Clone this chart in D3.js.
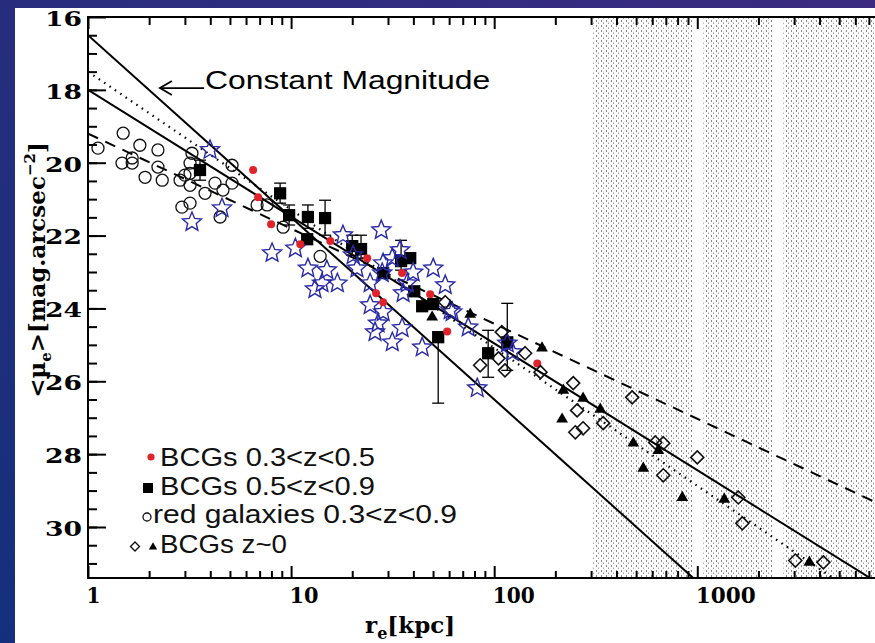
<!DOCTYPE html>
<html>
<head>
<meta charset="utf-8">
<script src="https://cdn.jsdelivr.net/npm/d3@7"></script>
<style>
  body { margin: 0; background: #fff; }
  svg { display: block; }
</style>
</head>
<body>
<svg id="chart" width="875" height="643"></svg>
<script>
// ---- data: [r_e (kpc), <mu_e> (mag/arcsec^2)] ----
var redGalaxies = [
  [1.12,19.60],[1.49,19.19],[1.80,19.52],[2.21,19.65],[1.47,20.01],[1.65,20.01],
  [1.65,19.87],[1.91,20.40],[2.21,20.12],[2.32,20.48],[2.84,20.48],[3.00,20.34],
  [3.18,20.29],[3.25,19.74],[3.18,20.01],[3.18,20.62],[3.77,20.84],[4.22,20.56],
  [4.62,20.75],[5.12,20.56],[5.12,20.07],[2.90,21.22],[3.18,21.11],[4.47,21.49],
  [6.80,21.16],[7.62,21.16],[9.14,21.77],[13.9,22.57]
];
var bcgMidZ = [   // red dots, 0.3<z<0.5
  [6.50,20.20],[6.88,20.95],[7.97,21.69],[11.1,22.24],[15.6,22.15],[23.7,22.62],
  [35.2,23.03],[48.4,23.61],[26.2,23.58],[28.4,23.83],[58.7,24.63],[163,25.51]
];
var bcgHighZ = [  // squares, 0.5<z<0.9: r, mu, errLow, errHigh
  [3.56,20.20,19.93,20.48],[8.83,20.84,20.56,21.11],[9.78,21.44,21.16,21.71],
  [12.1,21.49,21.16,21.80],[14.7,21.52,21.03,21.99],[12.0,22.10,null,null],
  [20.0,22.29,21.99,22.54],[22.1,22.37,21.99,22.62],[28.4,23.03,null,null],
  [34.8,22.70,22.13,22.95],[38.6,22.62,null,null],[40.4,23.53,null,null],
  [44.2,23.94,null,null],[50.1,23.88,null,null],[53.0,24.79,24.65,26.60],
  [93.4,25.23,24.60,25.89],[116,24.93,23.86,25.70]
];
var starSample = [
  [3.99,19.65],[3.25,21.63],[4.57,21.25],[8.06,22.48],[10.5,22.35],[18.0,21.99],
  [27.8,21.85],[12.1,22.90],[14.2,23.31],[16.9,23.31],[13.1,23.47],[15.0,22.95],
  [21.1,22.90],[24.5,23.31],[28.4,22.76],[31.5,22.62],[28.1,23.03],[37.3,23.31],
  [50.1,22.90],[57.4,23.36],[35.6,23.58],[24.5,23.91],[28.4,24.10],[26.8,24.41],
  [25.9,24.65],[35.2,24.54],[31.5,24.93],[44.2,25.07],[62.1,24.10],[74.5,24.52],
  [82.5,26.19],[116,24.96],[123,25.20],[34.4,22.40],[20.2,22.54],[60.7,24.05],
  [39.9,23.01]
];
var bcgLocalDiamond = [
  [57.4,23.83],[109,24.65],[85.3,25.56],[105,25.37],[113,25.70],[142,25.23],
  [169,25.75],[245,26.05],[256,26.80],[251,27.40],[274,27.29],[344,27.15],
  [478,26.44],[621,27.68],[680,27.70],[1000,28.09],[680,28.58],[1592,29.19],
  [1667,29.90],[3040,30.92],[4178,30.97]
];
var bcgLocalTriangle = [
  [49.5,24.24],[76.2,24.16],[172,25.09],[219,26.25],[274,26.47],[216,27.04],
  [333,26.77],[484,27.70],[643,27.90],[542,28.39],[844,29.19],[1358,29.24],
  [3564,30.97]
];
// fitted relations mu = a + b*log10(r)
var fitLines = [
  {a:16.5, b:5.00, dash:null},       // constant magnitude
  {a:18.0, b:3.48, dash:null},
  {a:17.5, b:3.79, dash:"1.5,5"},
  {a:19.2, b:2.61, dash:"11,8"}
];
// dotted (shaded) r ranges
var shadeBands = [[307,955],[1071,2340],[2653,7500]];

var yMajor = [16,18,20,22,24,26,28,30];
var yMinor = d3.range(16.5, 31.41, 0.5);
var xMajor = [1,10,100,1000];
var xTickText = ["1","10","100","1000"];
var xTickWidth = [14,29,42,60];

var legendRows = ["BCGs 0.3<z<0.5","BCGs 0.5<z<0.9","red galaxies 0.3<z<0.9","BCGs z~0"];
var legendWidth = [215,215,304,127];

// ---- layout ----
var svg = d3.select("#chart");
var L = 88, R = 875, T = 17, B = 578;
var x = d3.scaleLog().domain([1, 7500]).range([L, R]);
var y = d3.scaleLinear().domain([16, 31.4]).range([T, B]);

var defs = svg.append("defs");
var grad = defs.append("linearGradient").attr("id","bg").attr("x1","100%").attr("y1","0%").attr("x2","0%").attr("y2","100%");
grad.append("stop").attr("offset","0%").attr("stop-color","#3b2a80");
grad.append("stop").attr("offset","100%").attr("stop-color","#14307c");
defs.append("clipPath").attr("id","plot").append("rect")
  .attr("x",L).attr("y",T).attr("width",R-L).attr("height",B-T);
var pat = defs.append("pattern").attr("id","dots").attr("patternUnits","userSpaceOnUse")
  .attr("width",5).attr("height",5);
pat.append("rect").attr("x",1).attr("y",0).attr("width",1).attr("height",2).attr("fill","#8a8a8a");
pat.append("rect").attr("x",3).attr("y",2.5).attr("width",1).attr("height",1.5).attr("fill","#a0a0a0");

svg.append("rect").attr("width",875).attr("height",643).attr("fill","url(#bg)");
svg.append("rect").attr("x",15).attr("y",8).attr("width",860).attr("height",635).attr("fill","#fff");

var plot = svg.append("g").attr("clip-path","url(#plot)");

plot.selectAll("rect.band").data(shadeBands).enter().append("rect")
  .attr("x", function(d){ return x(d[0]); })
  .attr("width", function(d){ return x(d[1]) - x(d[0]); })
  .attr("y", T).attr("height", B - T)
  .attr("fill","url(#dots)");

// fit lines
plot.selectAll("line.fit").data(fitLines).enter().append("line")
  .attr("x1", x(1)).attr("x2", x(7500))
  .attr("y1", function(d){ return y(d.a); })
  .attr("y2", function(d){ return y(d.a + d.b*Math.log10(7500)); })
  .attr("stroke","#000")
  .attr("stroke-width", function(d){ return d.dash === "1.5,5" ? 2.2 : 2; })
  .attr("stroke-dasharray", function(d){ return d.dash; });

// open circles
plot.selectAll("circle.rg").data(redGalaxies).enter().append("circle")
  .attr("cx", function(d){ return x(d[0]); }).attr("cy", function(d){ return y(d[1]); })
  .attr("r", 6).attr("fill","none").attr("stroke","#111").attr("stroke-width",1.3);

// squares with error bars
var sq = plot.selectAll("g.sq").data(bcgHighZ).enter().append("g")
  .attr("transform", function(d){ return "translate(" + x(d[0]) + "," + y(d[1]) + ")"; });
sq.filter(function(d){ return d[2] !== null; }).each(function(d){
  var g = d3.select(this), yt = y(d[2]) - y(d[1]), yb = y(d[3]) - y(d[1]);
  g.append("line").attr("x1",0).attr("x2",0).attr("y1",yt).attr("y2",yb).attr("stroke","#000").attr("stroke-width",1.3);
  g.append("line").attr("x1",-6).attr("x2",6).attr("y1",yt).attr("y2",yt).attr("stroke","#000").attr("stroke-width",1.3);
  g.append("line").attr("x1",-6).attr("x2",6).attr("y1",yb).attr("y2",yb).attr("stroke","#000").attr("stroke-width",1.3);
});
sq.append("path").attr("d", d3.symbol(d3.symbolSquare, 150)()).attr("fill","#000");

// stars
function starPath(Ro) {
  var Ri = Ro * 0.45, p = "";
  for (var i = 0; i < 10; i++) {
    var a = -Math.PI/2 + i*Math.PI/5, rr = i % 2 ? Ri : Ro;
    p += (i ? "L" : "M") + (rr*Math.cos(a)).toFixed(2) + "," + (rr*Math.sin(a)).toFixed(2);
  }
  return p + "Z";
}
plot.selectAll("path.star").data(starSample).enter().append("path")
  .attr("d", starPath(10))
  .attr("transform", function(d){ return "translate(" + x(d[0]) + "," + y(d[1]) + ")"; })
  .attr("fill","none").attr("stroke","#2a2aa6").attr("stroke-width",1.4);

// red dots
plot.selectAll("circle.red").data(bcgMidZ).enter().append("circle")
  .attr("cx", function(d){ return x(d[0]); }).attr("cy", function(d){ return y(d[1]); })
  .attr("r", 4).attr("fill","#e0232b");

// diamonds + triangles
var diamond = "M0,-6.5L6.5,0L0,6.5L-6.5,0Z";
plot.selectAll("path.dia").data(bcgLocalDiamond).enter().append("path")
  .attr("d", diamond)
  .attr("transform", function(d){ return "translate(" + x(d[0]) + "," + y(d[1]) + ")"; })
  .attr("fill","none").attr("stroke","#111").attr("stroke-width",1.6);
plot.selectAll("path.tri").data(bcgLocalTriangle).enter().append("path")
  .attr("d", d3.symbol(d3.symbolTriangle, 60)())
  .attr("transform", function(d){ return "translate(" + x(d[0]) + "," + y(d[1]) + ")"; })
  .attr("fill","#000");

// ---- axes ----
var serif = "'DejaVu Serif', serif";
var xMinor = [];
[1,10,100,1000].forEach(function(dec){ for (var k = 2; k <= 9; k++) if (dec*k < 7500) xMinor.push(dec*k); });

function styleAxis(g) {
  g.select(".domain").remove();
  g.selectAll(".tick line").attr("stroke","#000").attr("stroke-width",2);
}
// bottom
svg.append("g").attr("transform","translate(0," + B + ")")
  .call(d3.axisBottom(x).tickValues(xMinor).tickSizeInner(-7).tickSizeOuter(0).tickFormat(""))
  .call(styleAxis);
var xb = svg.append("g").attr("transform","translate(0," + B + ")")
  .call(d3.axisBottom(x).tickValues(xMajor).tickSizeInner(-12).tickSizeOuter(0).tickPadding(9)
    .tickFormat(function(d, i){ return xTickText[i]; }))
  .call(styleAxis);
xb.selectAll("text").attr("text-anchor","start").attr("dx",-2)
  .attr("font-family",serif).attr("font-weight","bold").attr("font-size",22).attr("fill","#000")
  .attr("textLength", function(d, i){ return xTickWidth[i]; }).attr("lengthAdjust","spacingAndGlyphs");
// top
svg.append("g").attr("transform","translate(0," + T + ")")
  .call(d3.axisBottom(x).tickValues(xMinor).tickSizeInner(8).tickSizeOuter(0).tickFormat(""))
  .call(styleAxis);
svg.append("g").attr("transform","translate(0," + T + ")")
  .call(d3.axisBottom(x).tickValues(xMajor).tickSizeInner(12).tickSizeOuter(0).tickFormat(""))
  .call(styleAxis);
// left
svg.append("g").attr("transform","translate(" + L + ",0)")
  .call(d3.axisLeft(y).tickValues(yMinor).tickSizeInner(-9).tickSizeOuter(0).tickFormat(""))
  .call(styleAxis);
var yl = svg.append("g").attr("transform","translate(" + L + ",0)")
  .call(d3.axisLeft(y).tickValues(yMajor).tickSizeInner(-18).tickSizeOuter(0).tickPadding(6))
  .call(styleAxis);
yl.selectAll("text").attr("dy","0.4em")
  .attr("font-family",serif).attr("font-weight","bold").attr("font-size",21).attr("fill","#000")
  .attr("textLength",37).attr("lengthAdjust","spacingAndGlyphs");

// frame
svg.append("path").attr("d","M" + R + "," + T + "H" + L + "V" + B + "H" + R)
  .attr("fill","none").attr("stroke","#000").attr("stroke-width",2);

// axis titles
var xt = svg.append("text").attr("x",365).attr("y",633)
  .attr("font-family",serif).attr("font-weight","bold").attr("font-size",23).attr("fill","#000");
xt.append("tspan").text("r");
xt.append("tspan").attr("dy",6).attr("font-size",16).text("e");
xt.append("tspan").attr("dy",-6).text("[kpc]");

var yt = svg.append("text").attr("transform","translate(45,270) rotate(-90)").attr("text-anchor","middle")
  .attr("font-family",serif).attr("font-weight","bold").attr("font-size",23).attr("fill","#000");
yt.append("tspan").text("<\u03bc");
yt.append("tspan").attr("dy",6).attr("font-size",15).text("e");
yt.append("tspan").attr("dy",-6).text(">[mag.arcsec");
yt.append("tspan").attr("dy",-10).attr("font-size",15).text("\u22122");
yt.append("tspan").attr("dy",10).text("]");

// annotation
var sans = "'Liberation Sans', Arial, sans-serif";
var tip = [2.26, 17.95], textStart = 3.73;
svg.append("line").attr("x1",x(tip[0])).attr("x2",x(textStart)).attr("y1",y(tip[1])).attr("y2",y(tip[1]))
  .attr("stroke","#000").attr("stroke-width",1.8);
svg.append("path").attr("d","M" + (x(tip[0]) + 12) + "," + (y(tip[1]) - 7) + "L" + x(tip[0]) + "," + y(tip[1]) + "L" + (x(tip[0]) + 12) + "," + (y(tip[1]) + 7))
  .attr("fill","none").attr("stroke","#000").attr("stroke-width",1.8);
svg.append("text").attr("x",x(textStart) + 1).attr("y",y(tip[1]) + 1)
  .attr("font-family",sans).attr("font-size",25).attr("fill","#000")
  .attr("textLength",285).attr("lengthAdjust","spacingAndGlyphs").text("Constant Magnitude");

// legend
var lg = svg.append("g");
var rowY = [466,495,523,553];
lg.selectAll("text").data(legendRows).enter().append("text")
  .attr("x", function(d, i){ return i === 2 ? 153 : 160; })
  .attr("y", function(d, i){ return rowY[i]; })
  .attr("font-family",sans).attr("font-size",25).attr("fill","#111")
  .attr("textLength", function(d, i){ return legendWidth[i]; }).attr("lengthAdjust","spacingAndGlyphs")
  .text(function(d){ return d; });
lg.append("circle").attr("cx",151).attr("cy",457).attr("r",3.6).attr("fill","#e0232b");
lg.append("rect").attr("x",143).attr("y",483).attr("width",10).attr("height",10).attr("fill","#000");
lg.append("circle").attr("cx",147).attr("cy",517).attr("r",4).attr("fill","none").attr("stroke","#111").attr("stroke-width",1.3);
lg.append("path").attr("d","M135,542L139.5,546.5L135,551L130.5,546.5Z").attr("fill","none").attr("stroke","#111").attr("stroke-width",1.4);
lg.append("path").attr("d", d3.symbol(d3.symbolTriangle, 30)()).attr("transform","translate(153,547)").attr("fill","#000");
</script>
</body>
</html>
